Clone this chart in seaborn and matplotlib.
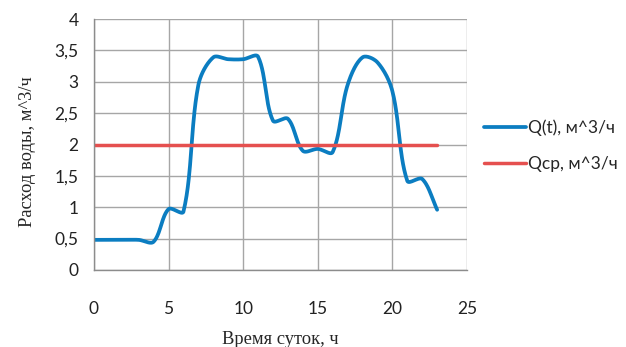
import numpy as np
import pandas as pd
import matplotlib
matplotlib.use("Agg")
import matplotlib.pyplot as plt
import seaborn as sns
from matplotlib.ticker import FuncFormatter, MultipleLocator

hours = list(range(24))
q_values = [0.48, 0.48, 0.48, 0.48, 0.45, 0.97, 0.93, 2.95, 3.39, 3.36, 3.36, 3.40,
            2.38, 2.41, 1.90, 1.93, 1.88, 2.95, 3.39, 3.31, 2.85, 1.42, 1.45, 0.96]
q_mean = [2.0] * 24
label_q = "Q(t), м^3/ч"
label_mean = "Qср, м^3/ч"
x_label = "Время суток, ч"
y_label = "Расход воды, м^3/ч"


def smooth(xs, ys, n=30, sx=14.9, sy=62.7):
    # chord-length weighted cubic Bezier smoothing (similar to spreadsheet smoothing)
    P = np.column_stack([np.asarray(xs, float) * sx, np.asarray(ys, float) * sy])
    m = len(P)
    d = np.linalg.norm(np.diff(P, axis=0), axis=1)
    tang = np.zeros_like(P)
    for i in range(m):
        if i == 0:
            tang[i] = (P[1] - P[0])
        elif i == m - 1:
            tang[i] = (P[-1] - P[-2])
        else:
            tang[i] = (P[i + 1] - P[i - 1]) / (d[i - 1] + d[i] + 1e-9)
    t = np.linspace(0, 1, n)
    out = []
    for i in range(m - 1):
        p0, p3 = P[i], P[i + 1]
        if i == 0:
            c1 = p0 + tang[i] / 3
        else:
            c1 = p0 + tang[i] * d[i] / 3
        if i + 1 == m - 1:
            c2 = p3 - tang[i + 1] / 3
        else:
            c2 = p3 - tang[i + 1] * d[i] / 3
        b = ((1 - t) ** 3)[:, None] * p0 + (3 * (1 - t) ** 2 * t)[:, None] * c1 \
            + (3 * (1 - t) * t ** 2)[:, None] * c2 + (t ** 3)[:, None] * p3
        out.append(b)
    out = np.vstack(out)
    return out[:, 0] / sx, out[:, 1] / sy


sx, sy = smooth(hours, q_values)
df_q = pd.DataFrame({"x": sx, "y": sy})
df_m = pd.DataFrame({"x": hours, "y": q_mean})

sns.set_style("white")
plt.rcParams['font.family'] = ['Lato', 'DejaVu Sans']

fig = plt.figure(figsize=(6.26, 3.47), dpi=100)
ax = fig.add_axes([0.150, 0.222, 0.596, 0.723])

grid_c = "#A6A6A6"
sns.lineplot(data=df_q, x="x", y="y", ax=ax, sort=False, color="#0B7DC1",
             linewidth=2.7, label=label_q, estimator=None)
sns.lineplot(data=df_m, x="x", y="y", ax=ax, sort=False, color="#E5504F",
             linewidth=2.5, label=label_mean, estimator=None)

ax.set_xlim(0, 25)
ax.set_ylim(0, 4)
ax.xaxis.set_major_locator(MultipleLocator(5))
ax.yaxis.set_major_locator(MultipleLocator(0.5))
fmt = FuncFormatter(lambda v, p: ("%g" % v).replace(".", ","))
ax.xaxis.set_major_formatter(fmt)
ax.yaxis.set_major_formatter(fmt)
ax.grid(True, color=grid_c, linewidth=1.0)
ax.set_axisbelow(True)
for s in ["top", "right"]:
    ax.spines[s].set_visible(False)
for s in ["left", "bottom"]:
    ax.spines[s].set_color("#8C8C8C")
    ax.spines[s].set_linewidth(1.0)
ax.tick_params(axis="both", which="both", length=5, color="#8C8C8C",
               labelsize=12.5, labelcolor="#222222", direction="out")
ax.tick_params(axis="x", pad=17)
ax.tick_params(axis="y", pad=6)

ax.set_xlabel(x_label, fontsize=13.3, family=["Liberation Serif"])
ax.xaxis.set_label_coords(0.5, -0.245)
ax.xaxis.label.set_verticalalignment("top")
ax.set_ylabel(y_label, fontsize=13.3, family=["Liberation Serif"])
ax.yaxis.set_label_coords(-0.155, 0.47)

leg = ax.legend(loc="center left", bbox_to_anchor=(1.005, 0.495), frameon=False,
                fontsize=12.5, handlelength=2.4, handletextpad=0.1, labelspacing=1.12)

fig.savefig("out.png", dpi=100)
